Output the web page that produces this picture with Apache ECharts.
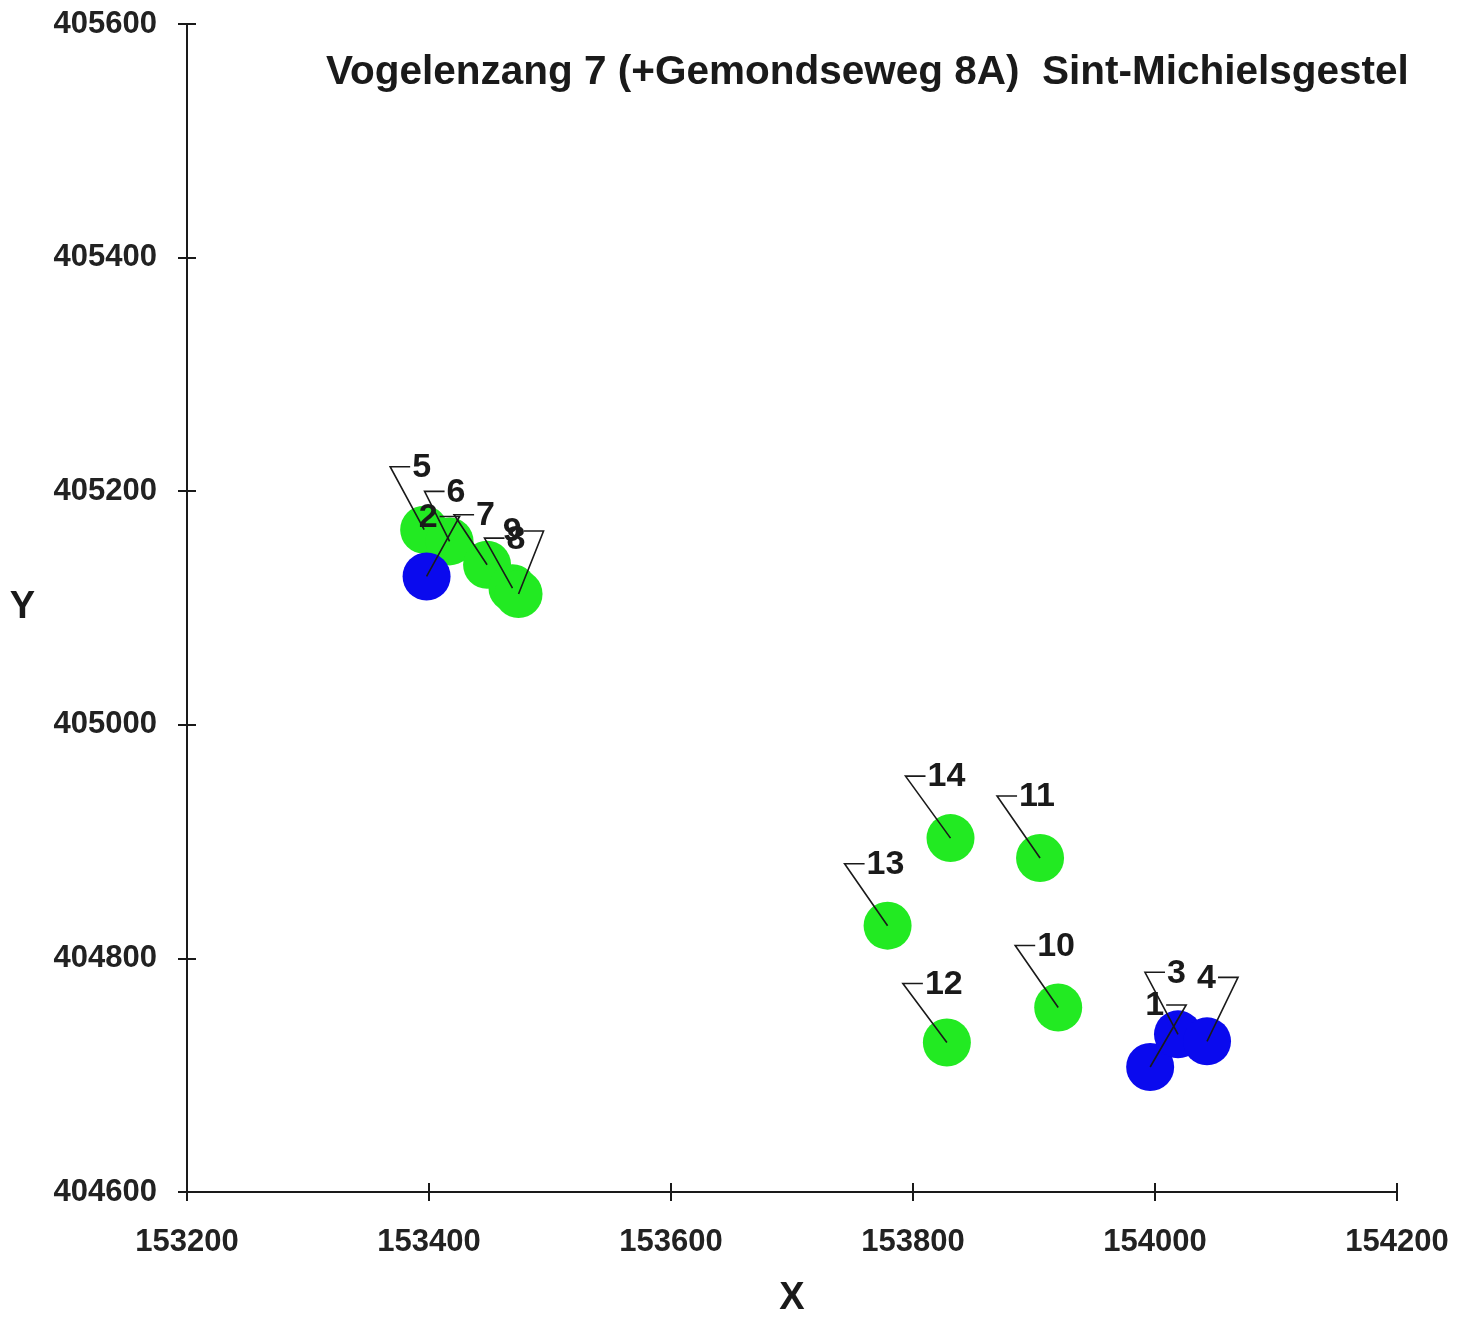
<!DOCTYPE html>
<html>
<head>
<meta charset="utf-8">
<script src="https://cdn.jsdelivr.net/npm/echarts@6/dist/echarts.min.js"></script>
<style>
html,body{margin:0;padding:0;background:#fff;}
#chart{width:1472px;height:1323px;}
</style>
</head>
<body>
<div id="chart"></div>
<script>
// ---- data ----
const titleText = 'Vogelenzang 7 (+Gemondseweg 8A)  Sint-Michielsgestel';
const xTicks = [153200, 153400, 153600, 153800, 154000, 154200];
const yTicks = [404600, 404800, 405000, 405200, 405400, 405600];

const blueLabels = ['1', '2', '3', '4'];
const blueX = [153996, 153398, 154019, 154043];
const blueY = [404707, 405127, 404735, 404729];

const greenLabels = ['5', '6', '7', '8', '9', '10', '11', '12', '13', '14'];
const greenX = [153396, 153417, 153448, 153469, 153474, 153920, 153905, 153828, 153779, 153831];
const greenY = [405167, 405157, 405137, 405117, 405112, 404758, 404886, 404728, 404828, 404903];

// ---- label leader layout (pixels, style only) ----
const leader = {
  '1': [36, -62, 'right'], '2': [33, -60, 'right'], '3': [-33, -62, 'left'], '4': [31, -64, 'right'],
  '5': [-34, -63, 'left'], '6': [-25, -50, 'left'], '7': [-33, -50, 'left'], '8': [-28, -50, 'left'],
  '9': [25, -63, 'right'], '10': [-43, -62, 'left'], '11': [-43, -62, 'left'], '12': [-44, -59, 'left'],
  '13': [-43, -62, 'left'], '14': [-45, -62, 'left']
};

const allLabels = blueLabels.concat(greenLabels);
const allX = blueX.concat(greenX);
const allY = blueY.concat(greenY);

const FONT = '"Liberation Sans", Arial, sans-serif';
const INK = '#1a1a1a';
const xMin = xTicks[0], xMax = xTicks[xTicks.length - 1], xStep = xTicks[1] - xTicks[0];
const yMin = yTicks[0], yMax = yTicks[yTicks.length - 1], yStep = yTicks[1] - yTicks[0];

const chart = echarts.init(document.getElementById('chart'));

function xAxisDef(main) {
  return {
    type: 'value', min: xMin, max: xMax, interval: xStep, position: 'bottom',
    splitLine: { show: false },
    axisLine: { show: main, onZero: false, lineStyle: { color: INK, width: 2 } },
    axisTick: { show: true, inside: !main, length: 9, lineStyle: { color: INK, width: 2 } },
    axisLabel: { show: main, margin: 35, formatter: v => String(v),
      fontFamily: FONT, fontSize: 31, fontWeight: 'bold', color: '#222' },
    name: main ? 'X' : '', nameLocation: 'middle', nameGap: 88,
    nameTextStyle: { fontFamily: FONT, fontSize: 38, fontWeight: 'bold', color: INK }
  };
}
function yAxisDef(main) {
  return {
    type: 'value', min: yMin, max: yMax, interval: yStep, position: 'left',
    splitLine: { show: false },
    axisLine: { show: main, onZero: false, lineStyle: { color: INK, width: 2 } },
    axisTick: { show: true, inside: !main, length: 9, lineStyle: { color: INK, width: 2 } },
    axisLabel: { show: main, margin: 30, formatter: v => String(v),
      fontFamily: FONT, fontSize: 31, fontWeight: 'bold', color: '#222' },
    name: main ? 'Y' : '', nameLocation: 'middle', nameGap: 152, nameRotate: 0,
    nameTextStyle: { fontFamily: FONT, fontSize: 38, fontWeight: 'bold', color: INK }
  };
}

chart.setOption({
  animation: false,
  backgroundColor: '#fff',
  title: {
    text: titleText, left: 326, top: 52, padding: 0,
    textStyle: { fontFamily: FONT, fontSize: 40.5, fontWeight: 'bold', color: INK }
  },
  grid: { left: 187, right: 75, top: 24, bottom: 125, containLabel: false },
  xAxis: [xAxisDef(true), xAxisDef(false)],
  yAxis: [yAxisDef(true), yAxisDef(false)],
  series: [
    {
      type: 'scatter', name: 'green', symbol: 'circle', symbolSize: 48,
      itemStyle: { color: '#22ea22', opacity: 1 },
      data: greenX.map((x, i) => [x, greenY[i]]), z: 2
    },
    {
      type: 'scatter', name: 'blue', symbol: 'circle', symbolSize: 48,
      itemStyle: { color: '#0a0aee', opacity: 1 },
      data: blueX.map((x, i) => [x, blueY[i]]), z: 3
    },
    {
      type: 'custom', name: 'labels', z: 10, silent: true,
      data: allX.map((x, i) => [x, allY[i]]),
      renderItem: function (params, api) {
        const p = api.coord([api.value(0), api.value(1)]);
        const lab = allLabels[params.dataIndex];
        const L = leader[lab];
        const ax = p[0] + L[0], ay = p[1] + L[1];
        const right = L[2] === 'right';
        const tx = right ? ax - 20 : ax + 20;
        return {
          type: 'group',
          children: [
            {
              type: 'polyline',
              shape: { points: [[p[0], p[1]], [ax, ay], [tx, ay]] },
              style: { stroke: INK, lineWidth: 1.6, fill: null }
            },
            {
              type: 'text',
              style: {
                text: lab, x: right ? tx - 2 : tx + 2, y: ay + 1,
                align: right ? 'right' : 'left', verticalAlign: 'middle',
                font: 'bold 34px ' + FONT, fill: INK
              }
            }
          ]
        };
      }
    }
  ]
});
</script>
</body>
</html>
